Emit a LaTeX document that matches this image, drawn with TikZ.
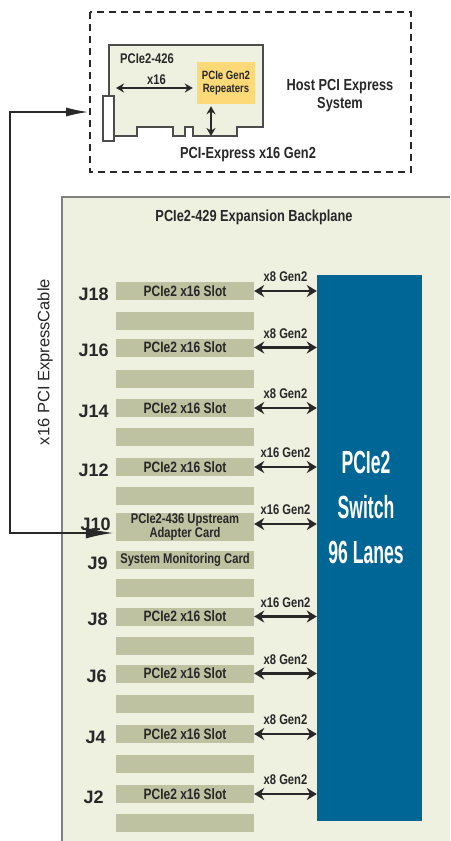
\documentclass[tikz,border=0pt]{standalone}
\usepackage{fontspec}
\setmainfont{Liberation Sans}
\newfontfamily\narrowfont{Liberation Sans}[FakeStretch=0.8]
\newfontfamily\switchfont{Liberation Sans}[FakeStretch=0.55]
\usetikzlibrary{arrows.meta,positioning}

\definecolor{boardcol}{RGB}{238,240,224}
\definecolor{slotcol}{RGB}{190,194,160}
\definecolor{switchcol}{RGB}{0,102,150}
\definecolor{repcol}{RGB}{253,217,120}
\definecolor{inkcol}{RGB}{40,40,40}

\tikzset{
  slot/.style={fill=slotcol, minimum width=138pt, minimum height=18pt, inner sep=0pt,
    text=inkcol, font=\narrowfont\bfseries\fontsize{15}{15}\selectfont},
  jlab/.style={inner sep=0pt, yshift=-3pt, text=inkcol, font=\bfseries\fontsize{18}{18}\selectfont},
  bus/.style={{Stealth[length=10pt,width=12pt]}-{Stealth[length=10pt,width=12pt]},
    line width=2.4pt, draw=inkcol},
  buslab/.style={above=8pt, inner sep=0pt, text=inkcol,
    font=\narrowfont\bfseries\fontsize{14}{14}\selectfont},
  cardarrow/.style={{Stealth[length=8pt,width=9pt]}-{Stealth[length=8pt,width=9pt]},
    line width=1.5pt, draw=inkcol},
  cardlab/.style={inner sep=0pt, text=inkcol, font=\narrowfont\bfseries\fontsize{14}{14}\selectfont},
  rep/.style={fill=repcol, minimum width=58pt, minimum height=42pt, inner sep=0pt, align=center,
    text=inkcol, font=\narrowfont\bfseries\fontsize{12}{13}\selectfont},
  hostlab/.style={align=center, inner sep=0pt, text=inkcol,
    font=\narrowfont\bfseries\fontsize{16}{18}\selectfont},
  cable/.style={{Latex[length=22pt,width=9pt]}-{Latex[length=27pt,width=11pt]},
    line width=1.2pt, draw=inkcol},
  cablab/.style={inner sep=0pt, text=inkcol, font=\fontsize{16.5}{16.5}\selectfont},
  switchtxt/.style={align=center, inner sep=0pt, text=white,
    font=\switchfont\bfseries\fontsize{32}{45}\selectfont}
}

\begin{document}
\begin{tikzpicture}[x=1pt,y=-1pt]

\useasboundingbox (0,0) rectangle (450,841);
\fill[white] (0,0) rectangle (450,841);

% host system
\draw[inkcol, line width=1.2pt, dash pattern=on 7pt off 5pt] (90,12) rectangle (411,172);
\draw[fill=boardcol, draw=black!70, line width=1.3pt] (109,45) -- (263,45) -- (263,127) -- (237,127)
  -- (237,136) -- (193,136) -- (193,127) -- (185,127) -- (185,136) -- (173,136) -- (173,127)
  -- (137,127) -- (137,136) -- (109,136) -- cycle;
\draw[fill=white, draw=black!70, line width=1.3pt] (103,96) rectangle (114,141);

\node[cardlab, anchor=west] (cardname) at (120,59) {PCIe2-426};
\node[rep] (rep) at (226,83) {PCIe Gen2\\Repeaters};
\coordinate (cardleft) at (116,88);
\coordinate (fingers) at (211,136);
\draw[cardarrow, shorten >=4pt] (cardleft) -- (cardleft -| rep.west) node[cardlab, midway, above=3pt] {x16};
\draw[cardarrow, shorten <=2pt] (fingers |- rep.south) -- (fingers);

\node[hostlab] (hostname) at (340,96) {Host PCI Express\\System};
\node[hostlab] (hostbus) at (248,155) {PCI-Express x16 Gen2};

% backplane
\fill[boardcol] (62,196) rectangle (450,841);
\draw[black!50, line width=1.5pt] (450,197) -- (62,197) -- (62,841);
\node[hostlab] (bptitle) at (254,217) {PCIe2-429 Expansion Backplane};

\node[fill=switchcol, minimum width=105pt, minimum height=546pt, inner sep=0pt] (sw) at (369.5,548) {};
\node[switchtxt] (swtxt) at (366,507) {PCIe2\\Switch\\96 Lanes};

\node[slot] (j18) at (185,291) {PCIe2 x16 Slot};
\node[slot] (b18) at (185,321) {};
\node[slot] (j16) at (185,347.5) {PCIe2 x16 Slot};
\node[slot] (b16) at (185,378.5) {};
\node[slot] (j14) at (185,408) {PCIe2 x16 Slot};
\node[slot] (b14) at (185,437) {};
\node[slot] (j12) at (185,467) {PCIe2 x16 Slot};
\node[slot] (b12) at (185,495.5) {};
\node[slot, minimum height=28pt, align=center, font=\narrowfont\bfseries\fontsize{14}{13}\selectfont]
  (j10) at (185,527) {PCIe2-436 Upstream\\Adapter Card};
\node[slot, font=\narrowfont\bfseries\fontsize{14}{14}\selectfont] (j9) at (185,560) {System Monitoring Card};
\node[slot] (b9) at (185,587.5) {};
\node[slot] (j8) at (185,616.5) {PCIe2 x16 Slot};
\node[slot] (b8) at (185,645.5) {};
\node[slot] (j6) at (185,673.5) {PCIe2 x16 Slot};
\node[slot] (b6) at (185,704) {};
\node[slot] (j4) at (185,734) {PCIe2 x16 Slot};
\node[slot] (b4) at (185,763.5) {};
\node[slot] (j2) at (185,794) {PCIe2 x16 Slot};
\node[slot] (b2) at (185,822.5) {};

\node[jlab, left=7pt of j18] (l18) {J18};
\node[jlab, left=7pt of j16] (l16) {J16};
\node[jlab, left=7pt of j14] (l14) {J14};
\node[jlab, left=7pt of j12] (l12) {J12};
\node[jlab, left=5pt of j10, yshift=6pt] (l10) {J10};
\node[jlab, left=8pt of j9] (l9) {J9};
\node[jlab, left=8pt of j8] (l8) {J8};
\node[jlab, left=9pt of j6] (l6) {J6};
\node[jlab, left=10pt of j4] (l4) {J4};
\node[jlab, left=12pt of j2] (l2) {J2};

\draw[bus] (j18.east) -- (j18.east -| sw.west) node[buslab, midway] {x8 Gen2};
\draw[bus] (j16.east) -- (j16.east -| sw.west) node[buslab, midway] {x8 Gen2};
\draw[bus] (j14.east) -- (j14.east -| sw.west) node[buslab, midway] {x8 Gen2};
\draw[bus] (j12.east) -- (j12.east -| sw.west) node[buslab, midway] {x16 Gen2};
\draw[bus] ([yshift=3pt]j10.east) -- ([yshift=3pt]j10.east -| sw.west) node[buslab, midway] {x16 Gen2};
\draw[bus] (j8.east) -- (j8.east -| sw.west) node[buslab, midway] {x16 Gen2};
\draw[bus] (j6.east) -- (j6.east -| sw.west) node[buslab, midway] {x8 Gen2};
\draw[bus] (j4.east) -- (j4.east -| sw.west) node[buslab, midway] {x8 Gen2};
\draw[bus] (j2.east) -- (j2.east -| sw.west) node[buslab, midway] {x8 Gen2};

% cable
\coordinate (cabtop) at (88,112);
\draw[cable, shorten >=3pt] (cabtop) -- ++(-78,0) |- ([yshift=-6pt]j10.west);
\node[cablab, rotate=90] (cabname) at (45,362) {x16 PCI ExpressCable};

\end{tikzpicture}
\end{document}
